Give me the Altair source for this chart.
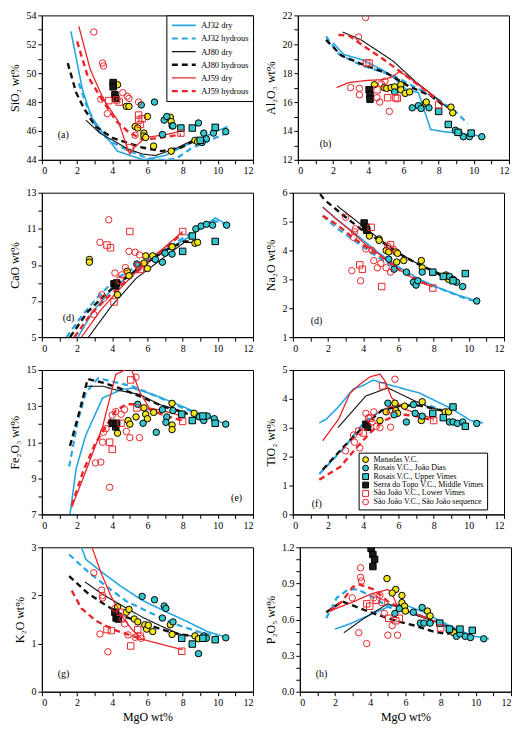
import altair as alt
import pandas as pd
import numpy as np

GROUP_KEYS = ["M", "RJ", "RU", "ST", "SL", "SS"]
GROUPS = ["Manadas V.C.", "Rosais V.C., João Dias", "Rosais V.C., Upper Vimes",
          "Serra do Topo V.C., Middle Vimes", "São João V.C., Lower Vimes",
          "São João V.C., São João sequence"]
MODELS = ["AJ32 dry", "AJ32 hydrous", "AJ80 dry", "AJ80 hydrous", "AJ59 dry", "AJ59 hydrous"]

# ---------------- SiO2 ----------------
SIO2_PTS = {
    "M": [(4.3, 49.2), (4.8, 47.7), (4.95, 47.7), (5.3, 46.3), (5.45, 46.2), (5.8, 45.85), (5.8, 45.65),
          (5.9, 45.55), (6.0, 47.0), (6.35, 44.95), (7.3, 46.95), (7.35, 46.65), (7.4, 46.35), (7.35, 44.6),
          (8.7, 45.35), (8.85, 45.25)],
    "RJ": [(5.65, 47.8), (6.4, 48.0), (6.85, 45.75), (6.95, 46.75), (7.1, 47.0), (7.45, 46.35), (8.9, 46.55),
           (9.2, 45.85), (9.35, 45.45), (9.75, 45.85), (10.45, 45.95), (9.1, 45.2)],
    "RU": [(7.9, 46.2), (8.55, 46.2), (9.0, 45.35), (9.85, 46.25)],
    "ST": [(4.05, 49.35), (4.05, 49.05), (4.15, 48.5), (4.2, 48.25)],
    "SL": [(3.8, 48.1), (4.25, 48.15), (4.4, 48.0), (5.5, 47.1), (5.5, 46.75), (5.6, 46.45), (5.7, 46.85),
           (5.0, 44.85), (7.9, 45.85)],
    "SS": [(2.95, 52.85), (3.45, 50.7), (3.5, 50.5), (3.35, 48.2), (3.72, 47.2), (4.6, 48.65), (4.85, 48.4),
           (4.95, 48.25), (5.5, 48.0), (5.3, 45.7)],
}
SIO2_LINES = {
    "AJ32 dry": [(1.65, 52.9), (2.3, 48.9), (2.8, 47.0), (3.4, 46.0), (4.3, 44.6), (5.0, 44.3), (5.8, 44.0),
                 (7.0, 44.3), (8.5, 45.2), (10.55, 46.3)],
    "AJ32 hydrous": [(2.1, 49.3), (2.5, 47.9), (3.2, 46.0), (4.0, 45.2), (5.0, 44.6), (6.0, 44.1), (6.8, 44.0),
                     (7.6, 44.05), (8.5, 44.8), (10.6, 45.9)],
    "AJ80 dry": [(2.5, 46.75), (3.3, 45.85), (4.9, 44.75), (5.7, 44.4), (6.45, 44.3), (7.55, 44.75), (8.65, 45.4)],
    "AJ80 hydrous": [(1.47, 50.7), (1.95, 48.65), (2.4, 47.55), (3.05, 46.3), (4.05, 45.5), (4.8, 45.2),
                     (5.7, 44.85), (6.8, 44.6), (7.9, 44.85), (8.65, 45.3)],
    "AJ59 dry": [(2.1, 53.25), (2.75, 50.25), (3.5, 48.2), (4.35, 46.65), (4.9, 44.65), (5.0, 44.4),
                 (5.25, 44.85), (5.9, 45.55), (7.1, 45.75), (7.9, 46.0)],
    "AJ59 hydrous": [(2.0, 52.2), (2.6, 49.8), (3.4, 48.2), (4.25, 46.65), (4.9, 45.95), (5.35, 45.65),
                     (5.7, 45.4), (6.6, 45.5), (7.9, 45.75)],
}

# ---------------- Al2O3 ----------------
AL2O3_PTS = {
    "M": [(4.35, 17.2), (4.9, 17.0), (5.05, 16.95), (5.3, 17.0), (5.5, 17.05), (5.85, 17.2), (5.85, 16.85),
          (6.1, 16.6), (6.35, 16.7), (7.25, 15.9), (7.3, 16.0), (8.7, 15.65), (8.8, 15.25)],
    "RJ": [(5.5, 16.7), (6.5, 15.6), (6.85, 15.75), (7.0, 15.55), (7.45, 15.6), (8.95, 14.05), (9.15, 13.9),
           (9.4, 13.6), (9.75, 13.6), (10.45, 13.6)],
    "RU": [(8.0, 15.35), (8.55, 14.45), (9.1, 13.9), (9.85, 13.85)],
    "ST": [(4.05, 16.85), (4.1, 16.5), (4.1, 16.2)],
    "SL": [(3.9, 18.7), (4.05, 18.7), (4.5, 16.85), (5.1, 16.3), (5.55, 16.3), (5.65, 16.25), (8.0, 15.8)],
    "SS": [(3.85, 21.85), (3.45, 20.5), (3.0, 17.0), (3.5, 16.95), (3.5, 16.5), (4.5, 16.3), (4.65, 16.0),
           (5.2, 15.35), (4.75, 17.25), (4.95, 17.45)],
}
AL2O3_LINES = {
    "AJ32 dry": [(2.0, 20.1), (2.6, 19.3), (3.6, 18.95), (4.7, 18.3), (5.4, 17.75), (6.15, 16.9), (6.85, 16.65),
                 (7.55, 14.1), (8.3, 13.95), (9.75, 13.75), (10.65, 13.6)],
    "AJ32 hydrous": [(1.6, 20.55), (2.35, 19.3), (3.6, 18.55), (5.4, 17.85), (6.7, 17.0), (7.95, 16.2),
                     (9.0, 15.3), (9.65, 14.5)],
    "AJ80 dry": [(2.55, 20.85), (3.6, 20.3), (5.4, 18.85), (6.7, 17.4), (7.75, 16.4), (8.5, 15.6)],
    "AJ80 hydrous": [(1.6, 20.3), (2.5, 19.2), (3.6, 18.65), (5.05, 18.0), (6.3, 17.1), (7.6, 16.4), (8.4, 15.65)],
    "AJ59 dry": [(2.2, 17.0), (2.9, 17.35), (3.95, 17.5), (4.85, 17.55), (5.4, 17.75), (5.75, 18.1),
                 (6.15, 17.85), (6.85, 17.2), (7.75, 16.4)],
    "AJ59 hydrous": [(2.3, 20.65), (2.9, 20.6), (3.6, 20.0), (4.7, 19.1), (5.95, 18.0), (7.2, 16.85), (7.95, 16.1)],
}

# ---------------- CaO ----------------
CAO_PTS = {
    "M": [(2.7, 9.3), (2.7, 9.15), (4.85, 8.65), (4.95, 8.4), (4.3, 7.35), (5.8, 9.1), (5.9, 9.5), (6.0, 8.8),
          (6.3, 9.5), (7.4, 10.0), (8.7, 10.2), (8.85, 10.25)],
    "RJ": [(5.4, 9.05), (6.45, 9.3), (6.85, 9.15), (7.0, 9.65), (7.4, 9.6), (8.75, 11.0), (9.05, 11.15),
           (9.35, 11.25), (9.7, 11.2), (10.5, 11.2)],
    "RU": [(8.0, 9.75), (8.55, 10.6), (9.85, 10.3)],
    "ST": [(4.1, 7.95), (4.2, 7.85), (4.25, 8.0)],
    "SL": [(5.0, 10.85), (3.7, 10.1), (3.9, 9.95), (5.5, 8.95), (5.6, 8.75), (4.45, 8.15), (4.1, 6.95), (8.0, 10.85)],
    "SS": [(3.8, 11.5), (3.3, 10.25), (4.95, 9.75), (5.3, 9.7), (5.55, 9.55), (4.75, 8.85), (4.15, 8.55),
           (4.55, 8.45), (3.4, 7.35), (3.5, 7.15), (2.95, 6.25)],
}
CAO_LINES = {
    "AJ32 dry": [(2.05, 5.0), (2.95, 6.5), (3.9, 7.55), (5.35, 8.75), (6.85, 9.7), (8.3, 10.5), (9.85, 11.6), (10.5, 11.25)],
    "AJ32 hydrous": [(1.4, 5.0), (2.25, 6.15), (3.15, 7.2), (4.25, 8.25), (5.7, 9.1), (7.2, 10.0), (8.65, 10.85),
                     (9.75, 11.45), (10.5, 11.25)],
    "AJ80 dry": [(2.65, 5.0), (3.9, 6.65), (5.35, 8.25), (6.85, 9.35), (8.1, 10.25), (8.65, 10.25)],
    "AJ80 hydrous": [(1.6, 5.0), (2.6, 6.4), (3.7, 7.45), (4.25, 7.9), (5.7, 8.95), (7.0, 9.8), (8.1, 10.3), (8.65, 10.3)],
    "AJ59 dry": [(2.25, 5.0), (3.35, 6.5), (4.45, 7.7), (5.7, 8.95), (7.0, 10.0), (8.0, 10.85)],
    "AJ59 hydrous": [(1.85, 5.0), (2.8, 6.3), (3.9, 7.35), (5.15, 8.4), (6.45, 9.45), (8.0, 10.75)],
}

# ---------------- Na2O ----------------
NA2O_PTS = {
    "M": [(4.35, 4.5), (4.9, 4.4), (4.9, 4.35), (5.3, 4.0), (5.45, 3.95), (5.85, 3.95), (5.95, 3.9), (5.9, 3.6),
          (6.3, 3.65), (7.3, 3.65), (7.35, 3.4), (8.7, 3.15), (8.85, 3.0)],
    "RJ": [(5.45, 3.7), (5.75, 3.35), (6.45, 3.25), (6.85, 2.9), (7.0, 2.8), (7.1, 2.95), (7.35, 3.25),
           (8.9, 3.1), (9.1, 3.0), (9.3, 2.9), (9.65, 2.75), (10.45, 2.25)],
    "RU": [(7.95, 3.25), (8.55, 3.1), (9.1, 2.95), (9.8, 3.2)],
    "ST": [(4.05, 4.95), (4.15, 4.8), (4.2, 4.7)],
    "SL": [(4.45, 4.8), (5.55, 4.2), (3.8, 3.5), (3.95, 3.35), (5.05, 2.75), (7.95, 2.7)],
    "SS": [(3.0, 5.15), (3.55, 4.75), (3.5, 4.65), (3.45, 4.45), (4.15, 4.05), (4.5, 4.0), (4.6, 3.65),
           (4.8, 3.4), (5.0, 3.55), (5.3, 3.4), (5.4, 4.15), (5.7, 4.05), (3.35, 3.3), (3.85, 2.95), (5.55, 3.25)],
}
NA2O_LINES = {
    "AJ32 dry": [(1.7, 5.5), (2.55, 5.05), (3.6, 4.55), (4.7, 4.0), (5.95, 3.45), (7.2, 3.0), (8.3, 2.7),
                 (9.4, 2.45), (10.45, 2.25)],
    "AJ32 hydrous": [(1.7, 5.2), (2.55, 4.75), (3.6, 4.3), (4.5, 3.9), (5.8, 3.4), (7.2, 2.95), (8.3, 2.7),
                     (9.75, 2.35), (10.3, 2.25)],
    "AJ80 dry": [(2.5, 5.55), (3.45, 5.1), (4.7, 4.5), (5.95, 3.95), (7.2, 3.5), (8.3, 3.15), (8.65, 3.05)],
    "AJ80 hydrous": [(1.55, 5.95), (1.8, 5.75), (2.9, 5.2), (3.95, 4.7), (5.05, 4.3), (6.15, 3.85), (7.2, 3.5),
                     (8.3, 3.2), (8.65, 3.05)],
    "AJ59 dry": [(1.7, 5.5), (2.35, 5.15), (3.25, 4.7), (4.15, 4.2), (5.05, 3.8), (6.15, 3.3), (7.2, 2.9), (7.95, 2.75)],
    "AJ59 hydrous": [(1.7, 5.2), (2.5, 4.9), (3.4, 4.45), (4.2, 4.1), (5.0, 3.8), (6.0, 3.35), (7.0, 3.0), (7.9, 2.75)],
}

# ---------------- Fe2O3 ----------------
FE2O3_PTS = {
    "M": [(4.3, 11.5), (4.9, 12.2), (5.0, 12.0), (5.35, 12.4), (5.8, 12.9), (5.9, 12.55), (6.0, 12.3),
          (6.35, 12.65), (7.4, 13.15), (7.4, 11.95), (7.4, 11.7), (8.65, 12.6)],
    "RJ": [(5.45, 13.1), (5.75, 12.05), (6.5, 11.55), (6.85, 12.8), (7.1, 12.4), (7.05, 12.1), (7.45, 12.75),
           (8.95, 12.4), (9.2, 12.2), (9.4, 12.45), (9.8, 12.3), (10.45, 12.0)],
    "RU": [(7.95, 12.55), (8.55, 12.2), (9.15, 12.45), (9.85, 12.05)],
    "ST": [(4.0, 12.05), (4.2, 11.85), (4.25, 12.05)],
    "SL": [(5.05, 14.45), (5.4, 12.9), (4.5, 12.05), (3.85, 11.0), (4.0, 10.6), (8.0, 12.15)],
    "SS": [(5.35, 14.6), (4.0, 12.5), (4.2, 12.7), (4.5, 12.55), (4.7, 12.8), (3.65, 11.75), (3.5, 11.55),
           (3.45, 11.0), (3.05, 9.85), (3.35, 9.9), (3.85, 8.5), (4.8, 11.6), (5.0, 11.25), (5.55, 11.25)],
}
FE2O3_LINES = {
    "AJ32 dry": [(1.6, 7.0), (1.95, 9.55), (2.5, 11.4), (3.45, 13.45), (4.5, 13.9), (5.15, 14.0), (6.3, 13.65),
                 (7.45, 13.2), (8.55, 12.75), (9.7, 12.3), (10.45, 12.0)],
    "AJ32 hydrous": [(1.55, 9.65), (2.05, 12.2), (2.5, 13.75), (3.2, 14.55), (4.05, 14.35), (5.15, 14.1),
                     (6.5, 13.55), (8.0, 12.9), (8.95, 12.55)],
    "AJ80 dry": [(2.5, 14.1), (3.45, 14.1), (4.2, 13.9), (5.55, 13.65), (6.65, 13.1), (8.2, 12.65)],
    "AJ80 hydrous": [(1.6, 10.8), (2.15, 12.75), (2.6, 14.5), (3.45, 14.3), (4.4, 14.0), (5.55, 13.55),
                     (6.85, 13.0), (8.35, 12.55)],
    "AJ59 dry": [(1.7, 7.4), (2.5, 9.4), (3.45, 11.85), (4.2, 14.75), (5.05, 15.15), (5.55, 13.8), (6.1, 12.9),
                 (7.05, 12.7), (8.0, 12.45)],
    "AJ59 hydrous": [(1.7, 7.5), (2.35, 9.4), (3.0, 10.85), (3.65, 11.9), (4.2, 12.75), (4.8, 13.1), (5.35, 13.1),
                     (5.9, 12.9), (7.05, 12.45), (8.0, 12.2)],
}

# ---------------- TiO2 ----------------
TIO2_PTS = {
    "M": [(4.95, 3.25), (5.3, 3.55), (5.8, 3.85), (5.85, 3.6), (5.95, 3.5), (6.35, 3.75), (7.35, 3.9),
          (7.3, 3.25), (8.65, 3.55), (8.85, 3.55)],
    "RJ": [(5.4, 3.85), (5.75, 3.45), (6.45, 3.2), (6.85, 3.8), (6.95, 3.5), (7.35, 3.4), (8.9, 3.2),
           (9.1, 3.2), (9.35, 3.15), (9.65, 3.2), (10.45, 3.15)],
    "RU": [(7.95, 3.5), (8.55, 3.35), (9.1, 3.72), (9.8, 3.05)],
    "ST": [(4.15, 3.12), (4.25, 3.02)],
    "SL": [(5.1, 4.45), (5.55, 3.62), (4.4, 3.33), (3.75, 2.88), (4.0, 2.82), (8.0, 3.25)],
    "SS": [(5.8, 4.68), (4.15, 3.5), (4.6, 3.55), (4.5, 3.2), (4.75, 3.05), (4.95, 3.0), (3.45, 2.75),
           (3.5, 2.5), (3.8, 2.3), (3.0, 2.2), (5.55, 3.02), (4.3, 3.35)],
}
TIO2_LINES = {
    "AJ32 dry": [(1.5, 3.17), (1.9, 3.3), (2.55, 3.7), (3.45, 4.35), (3.95, 4.45), (4.55, 4.65), (5.4, 4.5),
                 (7.2, 4.2), (9.05, 3.65), (10.1, 3.25), (10.8, 3.17)],
    "AJ32 hydrous": [(1.5, 1.4), (2.9, 2.3), (4.05, 3.2), (5.05, 3.6), (6.15, 3.78), (7.2, 3.88), (8.3, 3.65),
                     (8.9, 3.5)],
    "AJ80 dry": [(2.55, 3.0), (4.15, 4.1), (5.4, 4.38), (6.85, 3.95), (7.6, 3.75), (8.65, 3.55)],
    "AJ80 hydrous": [(1.7, 1.55), (2.9, 2.35), (4.15, 3.13), (5.05, 3.6), (6.15, 3.77), (7.2, 3.77), (8.3, 3.62),
                     (8.75, 3.55)],
    "AJ59 dry": [(1.7, 2.55), (2.6, 3.3), (3.25, 4.2), (3.8, 4.5), (4.35, 4.75), (4.95, 4.86), (5.25, 4.6),
                 (5.6, 4.05), (6.3, 3.65), (7.2, 3.48), (8.0, 3.3)],
    "AJ59 hydrous": [(1.5, 1.2), (2.7, 1.65), (3.6, 2.3), (4.35, 2.8), (5.05, 3.2), (5.95, 3.47), (6.85, 3.42),
                     (8.0, 3.25)],
}

# ---------------- K2O ----------------
K2O_PTS = {
    "M": [(4.3, 1.76), (4.8, 1.65), (4.95, 1.71), (5.25, 1.51), (5.45, 1.45), (5.85, 1.39), (5.95, 1.3),
          (6.05, 1.38), (6.3, 1.25), (7.3, 1.39), (7.4, 1.19), (8.7, 1.16), (8.9, 1.1)],
    "RJ": [(5.7, 1.98), (6.4, 1.91), (6.95, 1.78), (7.05, 1.73), (6.85, 1.53), (7.45, 1.45), (8.9, 0.79),
           (9.2, 1.16), (9.35, 1.11), (10.45, 1.12)],
    "RU": [(7.95, 1.11), (8.55, 0.99), (9.15, 1.11), (9.85, 1.08)],
    "ST": [(4.15, 1.65), (4.22, 1.53), (4.35, 1.51)],
    "SL": [(3.7, 1.29), (3.95, 1.27), (5.45, 1.29), (5.6, 1.15), (5.05, 0.95), (7.95, 0.84), (4.45, 1.65)],
    "SS": [(2.95, 2.47), (3.4, 2.11), (3.45, 2.0), (3.45, 1.95), (4.15, 1.73), (4.6, 1.51), (4.7, 1.41),
           (4.9, 1.18), (5.3, 1.13), (3.3, 1.2), (3.75, 0.83), (5.65, 1.11)],
}
K2O_LINES = {
    "AJ32 dry": [(2.25, 3.0), (2.5, 2.75), (3.35, 2.5), (4.45, 2.2), (5.7, 1.9), (7.0, 1.67), (8.3, 1.45),
                 (9.4, 1.25), (10.3, 1.15)],
    "AJ32 hydrous": [(1.55, 2.85), (2.6, 2.5), (3.7, 2.18), (4.8, 1.88), (6.1, 1.65), (7.55, 1.41), (8.85, 1.25),
                     (9.95, 1.15)],
    "AJ80 dry": [(2.45, 2.28), (3.5, 2.01), (4.6, 1.78), (5.7, 1.55), (6.85, 1.35), (7.95, 1.18), (8.65, 1.15)],
    "AJ80 hydrous": [(1.55, 2.4), (2.6, 2.05), (3.7, 1.78), (4.8, 1.55), (6.1, 1.38), (7.55, 1.21), (8.65, 1.15)],
    "AJ59 dry": [(2.85, 3.0), (3.35, 2.48), (3.9, 2.01), (4.45, 1.61), (5.15, 1.28), (5.7, 1.09), (6.85, 0.98),
                 (8.0, 0.87)],
    "AJ59 hydrous": [(1.7, 2.1), (2.25, 1.73), (3.05, 1.48), (4.05, 1.29), (5.15, 1.16), (5.7, 1.09)],
}

# ---------------- P2O5 ----------------
P2O5_PTS = {
    "M": [(4.95, 0.94), (5.45, 0.85), (5.25, 0.82), (5.8, 0.8), (5.8, 0.74), (5.95, 0.71), (6.0, 0.67),
          (7.25, 0.67), (7.4, 0.63), (8.5, 0.51), (8.75, 0.49)],
    "RJ": [(5.4, 0.65), (5.65, 0.69), (6.45, 0.66), (6.95, 0.7), (6.85, 0.57), (7.05, 0.57), (7.4, 0.57),
           (8.9, 0.46), (9.1, 0.48), (9.4, 0.46), (9.7, 0.45), (10.45, 0.44)],
    "RU": [(7.95, 0.57), (8.5, 0.52), (9.1, 0.52), (9.8, 0.51)],
    "ST": [(4.05, 1.19), (4.15, 1.14), (4.25, 1.1), (4.15, 1.04)],
    "SL": [(3.8, 0.73), (3.97, 0.71), (4.35, 0.76), (5.05, 0.61), (5.45, 0.59), (5.65, 0.61), (8.0, 0.53)],
    "SS": [(3.45, 1.03), (3.45, 0.95), (3.5, 0.92), (2.98, 0.78), (4.55, 0.8), (4.65, 0.74), (4.8, 0.65),
           (5.25, 0.55), (5.0, 0.47), (5.55, 0.47), (3.35, 0.49), (3.8, 0.4), (4.2, 0.78)],
}
P2O5_LINES = {
    "AJ32 dry": [(2.0, 0.52), (2.95, 0.57), (4.0, 0.64), (5.1, 0.71), (5.8, 0.73), (6.9, 0.67), (7.95, 0.59),
                 (9.05, 0.51), (9.95, 0.46), (10.75, 0.44)],
    "AJ32 hydrous": [(1.5, 0.61), (2.1, 0.78), (2.75, 0.85), (3.3, 0.85), (4.2, 0.78), (5.1, 0.7), (6.2, 0.66),
                     (7.25, 0.62), (8.3, 0.54), (8.9, 0.5)],
    "AJ80 dry": [(2.5, 0.49), (3.65, 0.61), (5.0, 0.73), (5.6, 0.7), (6.7, 0.63), (7.95, 0.57), (8.85, 0.52)],
    "AJ80 hydrous": [(1.5, 0.66), (2.4, 0.75), (3.3, 0.7), (4.2, 0.65), (5.45, 0.59), (6.5, 0.55), (7.6, 0.5),
                     (8.3, 0.48), (8.7, 0.49)],
    "AJ59 dry": [(1.7, 0.67), (2.2, 0.7), (3.1, 0.75), (4.0, 0.81), (5.0, 0.85), (5.25, 0.81), (5.6, 0.69),
                 (6.9, 0.63), (7.95, 0.57)],
    "AJ59 hydrous": [(1.7, 0.67), (2.4, 0.75), (3.0, 0.87), (3.4, 0.89), (4.2, 0.85), (5.0, 0.75), (5.8, 0.69),
                     (6.9, 0.63), (7.95, 0.55)],
}

# ---------------- styling ----------------
BLUE = "#27a7e1"
RED = "#e8262b"
BLACK = "#111111"
YELLOW = "#f1e41f"
CYAN = "#33c6cc"
FONT = "Liberation Serif"

W, H = 212, 145


def make_panel(ytitle, pts, lines, ylo, yhi, major, minor, fmt, tag, tag_xy, legend, xtitle):
    prow = []
    for k, name in zip(GROUP_KEYS, GROUPS):
        for (x, y) in pts[k]:
            prow.append({"group": name, "mgo": x, "val": y})
    pdf = pd.DataFrame(prow)
    lrow = []
    for m in MODELS:
        for i, (x, y) in enumerate(lines[m]):
            lrow.append({"model": m, "mgo": x, "val": y, "i": i})
    ldf = pd.DataFrame(lrow)

    xenc = alt.X("mgo:Q", scale=alt.Scale(domain=[0, 12], nice=False, zero=False),
                 axis=alt.Axis(values=list(range(13)),
                               labelExpr="datum.value % 2 == 0 ? datum.label : ''",
                               title="MgO wt%" if xtitle else None))
    yvals = [round(v, 4) for v in np.arange(ylo, yhi + minor / 2, minor)]
    yexpr = ("abs((datum.value-(%s))/%s - round((datum.value-(%s))/%s)) < 0.001 ? datum.label : ''"
             % (ylo, major, ylo, major))
    yenc = alt.Y("val:Q", scale=alt.Scale(domain=[ylo, yhi], nice=False, zero=False),
                 axis=alt.Axis(values=yvals, labelExpr=yexpr, format=fmt, title=ytitle))

    if legend == "lines":
        lleg = alt.Legend(title=None, orient="top-right", offset=0, symbolType="M-1,0L1,0",
                          symbolSize=576, symbolStrokeWidth=2, labelFontSize=8.5, labelFont=FONT,
                          clipHeight=12, rowPadding=1.2, padding=4, strokeColor="black",
                          fillColor="white", labelLimit=200, labelOffset=4)
    else:
        lleg = None
    if legend == "points":
        pleg = alt.Legend(title=None, orient="none", legendX=66, legendY=83, symbolSize=34,
                          symbolStrokeWidth=1, labelFontSize=8, labelFont=FONT, clipHeight=8,
                          rowPadding=0.5, padding=3, strokeColor="black", fillColor="white",
                          labelLimit=300, symbolOpacity=1, labelOffset=4)
    else:
        pleg = None

    line_layer = alt.Chart(ldf).mark_line(clip=True).encode(
        x=xenc, y=yenc,
        color=alt.Color("model:N", scale=alt.Scale(domain=MODELS,
                                                    range=[BLUE, BLUE, BLACK, BLACK, RED, RED]),
                        legend=lleg),
        strokeDash=alt.StrokeDash("model:N", scale=alt.Scale(domain=MODELS,
                                                             range=[[1, 0], [6, 4], [1, 0], [6, 4], [1, 0], [6, 4]]),
                                  legend=lleg),
        strokeWidth=alt.StrokeWidth("model:N", scale=alt.Scale(type="ordinal", domain=MODELS,
                                                               range=[1.6, 2.2, 1.1, 2.4, 1.3, 2.4]),
                                    legend=lleg),
        order="i:Q",
    )
    pt_layer = alt.Chart(pdf).mark_point(filled=True, size=42, opacity=1, strokeWidth=1, clip=True).encode(
        x=xenc, y=yenc,
        fill=alt.Fill("group:N", scale=alt.Scale(domain=GROUPS,
                                                  range=[YELLOW, CYAN, CYAN, "#1a1a1a", "transparent", "transparent"]),
                      legend=pleg),
        stroke=alt.Stroke("group:N", scale=alt.Scale(domain=GROUPS,
                                                      range=["#000000", "#000000", "#000000", "#000000", RED, RED]),
                          legend=pleg),
        shape=alt.Shape("group:N", scale=alt.Scale(domain=GROUPS,
                                                    range=["circle", "circle", "square", "square", "square", "circle"]),
                        legend=pleg),
    )
    tag_layer = alt.Chart(pd.DataFrame({"t": [tag]})).mark_text(
        font=FONT, fontSize=10, align="left", baseline="middle", color="black").encode(
        text="t:N", x=alt.value(tag_xy[0]), y=alt.value(tag_xy[1]))
    return alt.layer(line_layer, pt_layer, tag_layer).properties(width=W, height=H)


RES = dict(color="independent", strokeDash="independent", strokeWidth="independent",
           fill="independent", stroke="independent", shape="independent")

pa = make_panel("SiO₂ wt%", SIO2_PTS, SIO2_LINES, 44, 54, 2, 1, "d", "(a)", (16, 120), "lines", False)
pb = make_panel("Al₂O₃ wt%", AL2O3_PTS, AL2O3_LINES, 12, 22, 2, 1, "d", "(b)", (22, 129), None, False)
pc = make_panel("CaO wt%", CAO_PTS, CAO_LINES, 5, 13, 2, 1, "d", "(d)", (21, 126), None, False)
pd_ = make_panel("Na₂O wt%", NA2O_PTS, NA2O_LINES, 1, 6, 1, 0.5, "d", "(d)", (18, 129), None, False)
pe = make_panel("Fe₂O₃ wt%", FE2O3_PTS, FE2O3_LINES, 7, 15, 2, 1, "d", "(e)", (190, 129), None, False)
pf = make_panel("TiO₂ wt%", TIO2_PTS, TIO2_LINES, 0, 5, 1, 0.5, "d", "(f)", (19, 135), "points", False)
pg = make_panel("K₂O wt%", K2O_PTS, K2O_LINES, 0, 3, 1, 0.25, "d", "(g)", (16, 127), None, True)
ph = make_panel("P₂O₅ wt%", P2O5_PTS, P2O5_LINES, 0, 1.2, 0.3, 0.1, ".1f", "(h)", (16, 127), None, True)

rows = [alt.hconcat(a, b, spacing=10).resolve_scale(**RES) for a, b in
        [(pa, pb), (pc, pd_), (pe, pf), (pg, ph)]]
chart = alt.vconcat(*rows, spacing=10).resolve_scale(**RES).properties(
    padding={"left": 0, "top": 0, "right": 0, "bottom": 0}
).configure(font=FONT).configure_view(
    stroke="black", strokeWidth=1
).configure_axis(
    labelFont=FONT, titleFont=FONT, labelFontSize=10, titleFontSize=12, titleFontWeight="normal",
    labelColor="black", titleColor="black", domainColor="black", tickColor="black",
    tickSize=4, grid=False, labelPadding=2, titlePadding=4, labelOverlap=False
)

chart.save("out.html", embed_options={"renderer": "svg", "actions": False})
